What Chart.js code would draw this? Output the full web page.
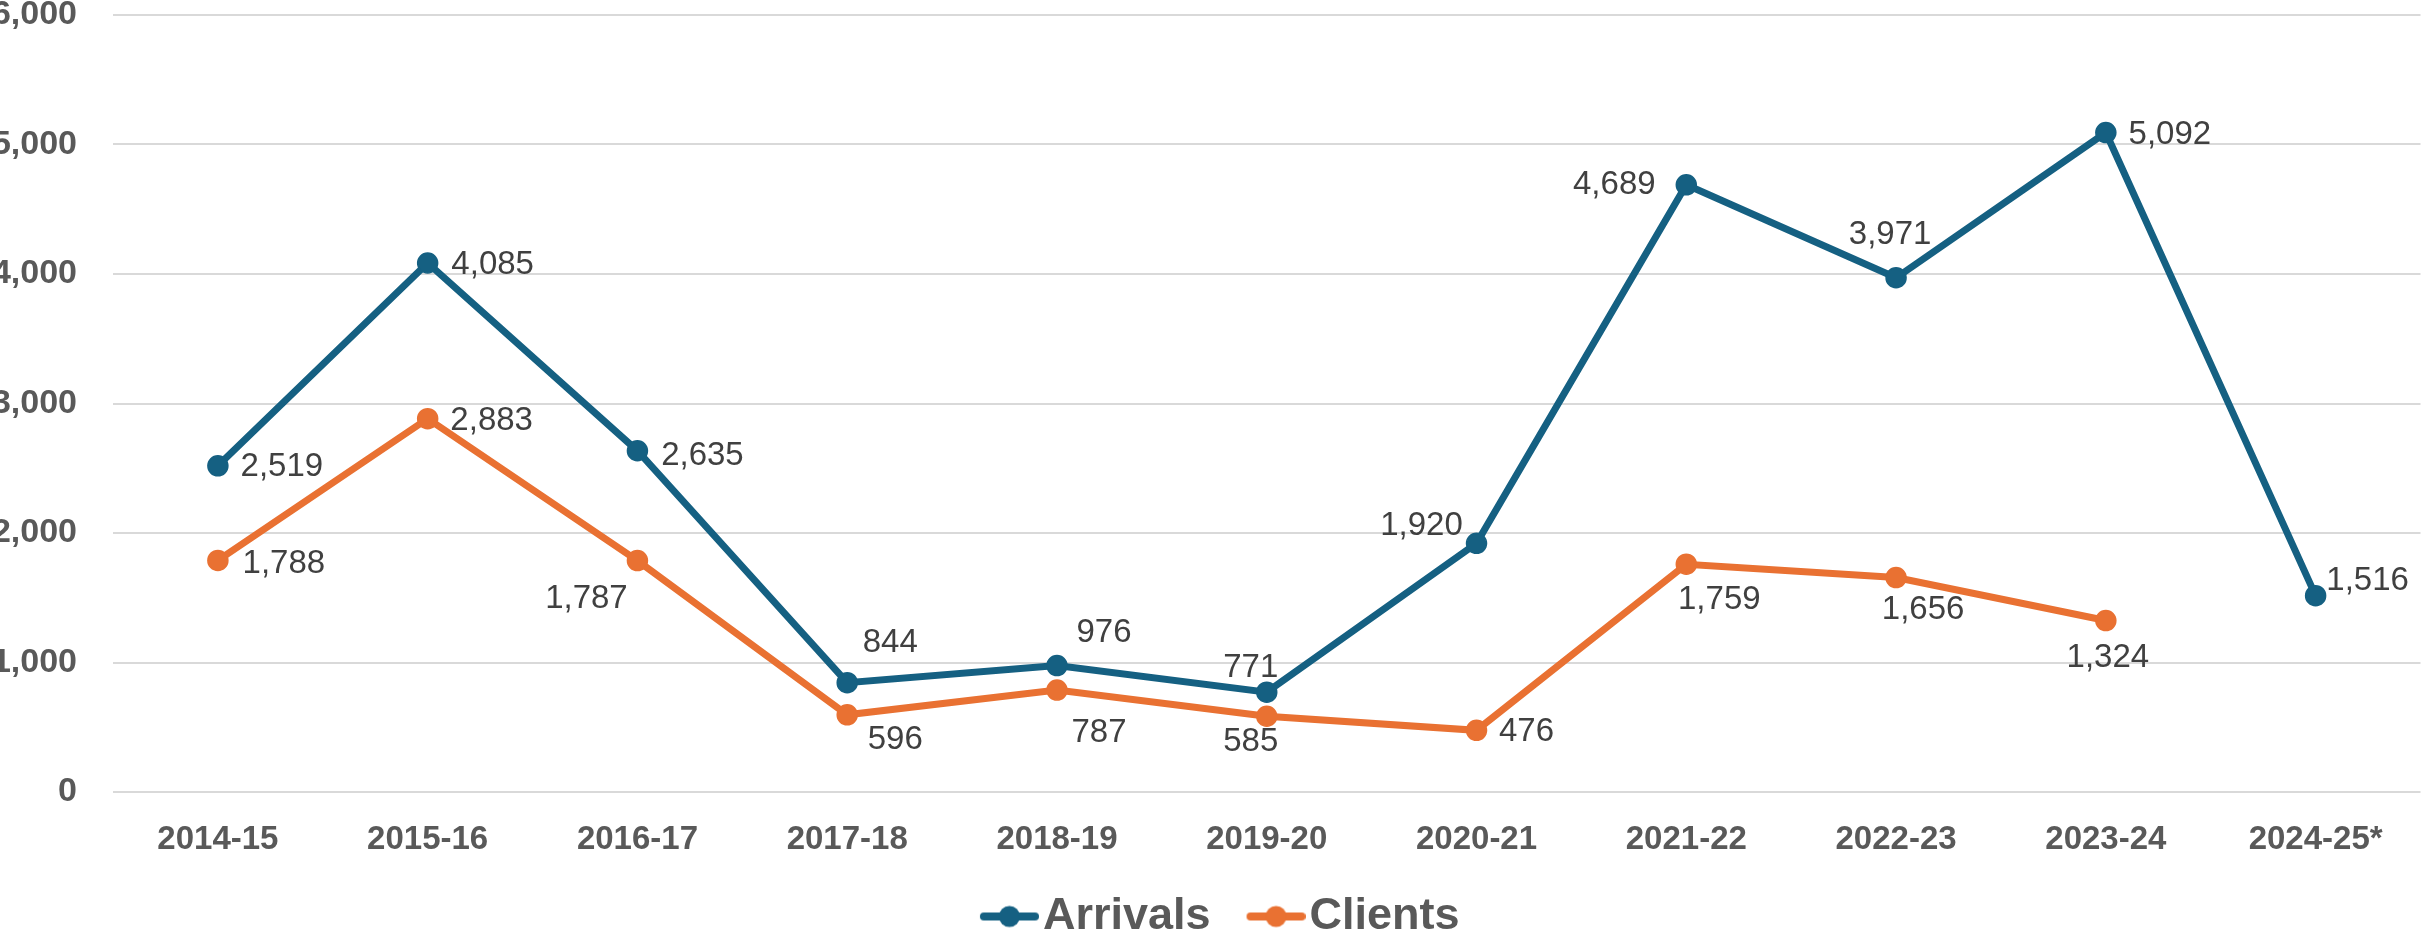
<!DOCTYPE html>
<html>
<head>
<meta charset="utf-8">
<script src="https://cdn.jsdelivr.net/npm/chart.js@4/dist/chart.umd.min.js"></script>
<style>
  html, body { margin: 0; padding: 0; background: #ffffff; overflow: hidden; }
  #wrap { position: relative; width: 2432px; height: 943px; }
</style>
</head>
<body>
<div id="wrap"><canvas id="lineChart"></canvas></div>
<script>
// データ
const years = ['2014-15', '2015-16', '2016-17', '2017-18', '2018-19', '2019-20',
               '2020-21', '2021-22', '2022-23', '2023-24', '2024-25*'];
const arrivals = [2519, 4085, 2635, 844, 976, 771, 1920, 4689, 3971, 5092, 1516];
const clients = [1788, 2883, 1787, 596, 787, 585, 476, 1759, 1656, 1324, null];
const yTicks = [0, 1000, 2000, 3000, 4000, 5000, 6000];

// ラベル位置 (点からのずれ, px)
const arrivalsLabelOffset = [[64, 1], [65, 2], [65, 5], [43, -40], [47, -33], [-16, -24],
                             [-55, -17], [-72, 0], [-6, -43], [64, 2], [52, -15]];
const clientsLabelOffset = [[66, 3], [64, 2], [-51, 38], [48, 25], [42, 43], [-16, 26],
                            [50, 2], [33, 36], [27, 32], [2, 37], null];

const BLUE = '#156082';
const ORANGE = '#E97132';

// 凡例マーカー (線 + 丸)。左側は透明の余白で、項目間の間隔を作る
const MARKER_PAD = 26;
function legendMarker(color) {
    const c = document.createElement('canvas');
    c.width = 59 + MARKER_PAD;
    c.height = 24;
    const g = c.getContext('2d');
    g.strokeStyle = color;
    g.lineWidth = 8;
    g.lineCap = 'round';
    g.beginPath();
    g.moveTo(MARKER_PAD + 4, 12);
    g.lineTo(MARKER_PAD + 55, 12);
    g.stroke();
    g.fillStyle = color;
    g.beginPath();
    g.arc(MARKER_PAD + 29.5, 12, 10.5, 0, Math.PI * 2);
    g.fill();
    return c;
}

const valueLabels = {
    id: 'valueLabels',
    afterDatasetsDraw(chart) {
        const ctx = chart.ctx;
        const offsets = [arrivalsLabelOffset, clientsLabelOffset];
        ctx.save();
        ctx.font = '33px "Liberation Sans", Arial, sans-serif';
        ctx.fillStyle = '#404040';
        ctx.textAlign = 'center';
        ctx.textBaseline = 'middle';
        chart.data.datasets.forEach((ds, di) => {
            const meta = chart.getDatasetMeta(di);
            meta.data.forEach((pt, i) => {
                const v = ds.data[i];
                if (v === null || !offsets[di][i]) return;
                const [dx, dy] = offsets[di][i];
                ctx.fillText(v.toLocaleString('en-US'), pt.x + dx, pt.y + dy);
            });
        });
        ctx.restore();
    }
};

const ctx = document.getElementById('lineChart');

new Chart(ctx, {
    type: 'line',
    data: {
        labels: years,
        datasets: [
            {
                label: 'Arrivals',
                data: arrivals,
                borderColor: BLUE,
                backgroundColor: BLUE,
                borderWidth: 7,
                pointRadius: 10,
                pointBorderWidth: 1.5,
                pointBackgroundColor: BLUE,
                pointStyle: 'circle',
                tension: 0
            },
            {
                label: 'Clients',
                data: clients,
                borderColor: ORANGE,
                backgroundColor: ORANGE,
                borderWidth: 7,
                pointRadius: 10,
                pointBorderWidth: 1.5,
                pointBackgroundColor: ORANGE,
                pointStyle: 'circle',
                tension: 0
            }
        ]
    },
    options: {
        responsive: true,
        maintainAspectRatio: false,
        animation: false,
        layout: { padding: { top: 15, right: 0, bottom: -6, left: 0 } },
        scales: {
            x: {
                offset: true,
                grid: { display: false, drawTicks: false },
                border: { display: false },
                ticks: {
                    color: '#595959',
                    padding: 28,
                    maxRotation: 0,
                    autoSkip: false,
                    font: { family: '"Liberation Sans", Arial, sans-serif', size: 33, weight: 'bold' }
                },
                afterFit(scale) { scale.height = 73.5; }
            },
            y: {
                min: 0,
                max: 6000,
                afterBuildTicks(scale) { scale.ticks = yTicks.map(v => ({ value: v })); },
                grid: { color: '#d9d9d9', lineWidth: 2, drawTicks: false },
                border: { display: false },
                ticks: {
                    color: '#595959',
                    padding: 36,
                    callback: v => v.toLocaleString('en-US'),
                    font: { family: '"Liberation Sans", Arial, sans-serif', size: 34, weight: 'bold' }
                },
                afterFit(scale) {
                    scale.width = 113;
                    scale.paddingTop = 0;
                    scale.paddingBottom = 0;
                }
            }
        },
        plugins: {
            legend: {
                position: 'bottom',
                labels: {
                    color: '#595959',
                    padding: 28.5,
                    usePointStyle: true,
                    pointStyleWidth: 22 + MARKER_PAD,
                    font: { family: '"Liberation Sans", Arial, sans-serif', size: 45, weight: 'bold' },
                    generateLabels(chart) {
                        return chart.data.datasets.map((ds, i) => ({
                            text: ds.label,
                            fillStyle: ds.borderColor,
                            strokeStyle: ds.borderColor,
                            fontColor: '#595959',
                            lineWidth: 0,
                            pointStyle: legendMarker(ds.borderColor),
                            hidden: false,
                            datasetIndex: i
                        }));
                    }
                }
            },
            tooltip: { enabled: false }
        }
    },
    plugins: [valueLabels]
});
</script>
</body>
</html>
